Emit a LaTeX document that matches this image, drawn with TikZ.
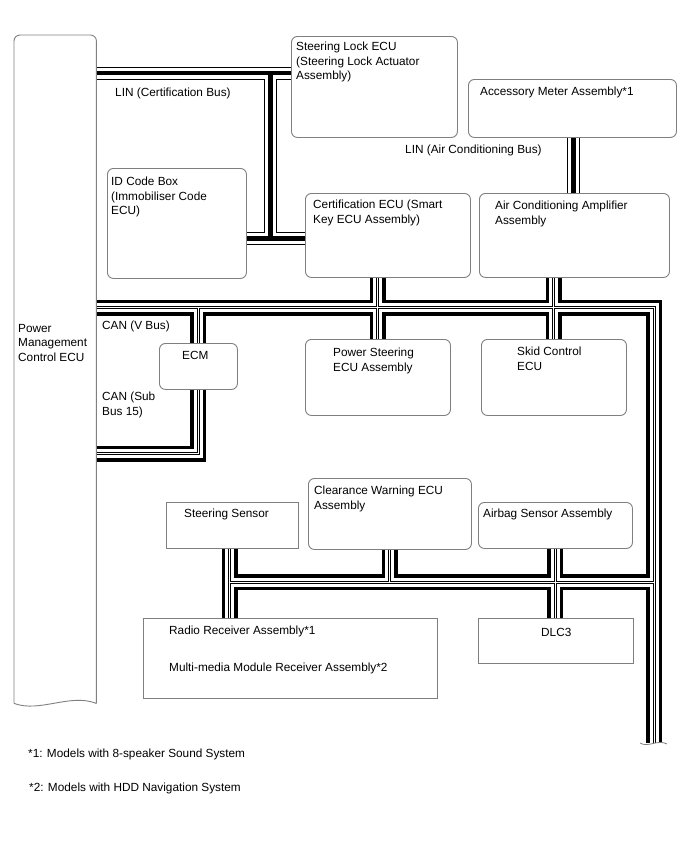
\documentclass[tikz,border=0pt]{standalone}
\usepackage{fontspec}
\setmainfont{Liberation Sans}
\usepackage{xcolor}
\definecolor{boxGray}{HTML}{7F7F7F}
\usetikzlibrary{positioning,backgrounds}
\tikzset{%
  ecuBox/.style={%
    rectangle,
    rounded corners=6pt,
    draw=boxGray,
    fill=white,
    line width=0.9pt,
    anchor=north west,
    inner sep=0pt
  },
  partBox/.style={%
    ecuBox,
    sharp corners
  },
  boxText/.style={%
    anchor=north west,
    inner sep=0pt,
    align=left,
    font=\fontsize{11.8}{14.5}\selectfont
  },
  busPass/.style={%
    line width=#1,
    line join=miter,
    line cap=butt
  }
}

\begin{document}
\begin{tikzpicture}[x=1pt,y=-1pt]
    \useasboundingbox (0,0) rectangle (688,852);

    % Power management ECU (left, cut off at the bottom)
    \node[minimum width=82, minimum height=668, anchor=north west, inner sep=0pt] (pmc) at (14,35) {};
    \draw[draw=boxGray, line width=0.9pt, rounded corners=6pt]
        (pmc.south west) -- (pmc.north west) -- (pmc.north east) -- (pmc.south east);
    \draw[draw=boxGray, line width=0.9pt]
        (pmc.south west) .. controls (40,713) and (70,693) .. (pmc.south east);
    \node[boxText] (pmcText) at (18,324) {Power\\Management\\Control ECU};

    % Upper ECUs
    \node[ecuBox, minimum width=166, minimum height=101] (slock) at (291,36) {};
    \node[boxText] (slockText) at (296,42) {Steering Lock ECU\\(Steering Lock Actuator\\Assembly)};

    \node[ecuBox, minimum width=208, minimum height=58] (accmeter) at (468,79) {};
    \node[boxText] (accmeterText) at (480,87) {Accessory Meter Assembly*1};

    \node[ecuBox, minimum width=139, minimum height=110] (idbox) at (107,168) {};
    \node[boxText] (idboxText) at (111,177) {ID Code Box\\(Immobiliser Code\\ECU)};

    \node[ecuBox, minimum width=165, minimum height=84] (cert) at (305,193) {};
    \node[boxText] (certText) at (313,200) {Certification ECU (Smart\\Key ECU Assembly)};

    \node[ecuBox, minimum width=190, minimum height=84] (acamp) at (479,193) {};
    \node[boxText] (acampText) at (495,201) {Air Conditioning Amplifier\\Assembly};

    % Middle ECUs
    \node[ecuBox, minimum width=78, minimum height=46] (ecm) at (159,343) {};
    \node[boxText] (ecmText) at (182,351) {ECM};

    \node[ecuBox, minimum width=145, minimum height=76] (ps) at (305,339) {};
    \node[boxText] (psText) at (333,348) {Power Steering\\ECU Assembly};

    \node[ecuBox, minimum width=145, minimum height=76] (skid) at (481,339) {};
    \node[boxText] (skidText) at (517,347) {Skid Control\\ECU};

    % Lower ECUs
    \node[partBox, minimum width=132, minimum height=46] (ssensor) at (166,502) {};
    \node[boxText] (ssensorText) at (184,509) {Steering Sensor};

    \node[ecuBox, minimum width=163, minimum height=71] (clear) at (308,478) {};
    \node[boxText] (clearText) at (314,486) {Clearance Warning ECU\\Assembly};

    \node[ecuBox, minimum width=154, minimum height=46] (airbag) at (478,502) {};
    \node[boxText] (airbagText) at (483,509) {Airbag Sensor Assembly};

    \node[partBox, minimum width=294, minimum height=80] (radio) at (143,618) {};
    \node[boxText] (radioText) at (169,626) {Radio Receiver Assembly*1};
    \node[boxText] (mmText) at (169,663) {Multi-media Module Receiver Assembly*2};

    \node[partBox, minimum width=155, minimum height=45] (dlc) at (478,618) {};
    \node[boxText] (dlcText) at (541,628) {DLC3};

    % Bus labels
    \node[boxText] (linCertText) at (115,88) {LIN (Certification Bus)};
    \node[boxText] (linAcText) at (405,145) {LIN (Air Conditioning Bus)};
    \node[boxText] (canVText) at (102,321) {CAN (V Bus)};
    \node[boxText] (canSubText) at (102,392) {CAN (Sub\\Bus 15)};

    % Footnotes
    \node[boxText] (note1) at (28,749) {*1: Models with 8-speaker Sound System};
    \node[boxText] (note2) at (29,783) {*2: Models with HDD Navigation System};

    % Bus corner points
    \coordinate (canV) at (654,307.5);
    \coordinate (canEnd) at (654,743);
    \coordinate (canSub) at (198,453.5);
    \coordinate (canLow) at (229.5,582);
    \coordinate (linTop) at (270.5,73);
    \coordinate (linLow) at (270.5,238.5);
    \coordinate (linAc) at (573.5,0);

    \begin{scope}[on background layer]
        % LIN buses
        \foreach \w/\c in {13pt/black, 11pt/white, 4.5pt/black} {
            \draw[busPass=\w, draw=\c]
                (pmc.east |- linTop) -- (slock.west |- linTop)
                (linTop) -- (linLow)
                (idbox.east |- linLow) -- (cert.west |- linLow)
                (accmeter.south -| linAc) -- (acamp.north -| linAc);
        }
        % CAN buses
        \foreach \w/\c in {16pt/black, 9pt/white, 3pt/black, 1pt/white} {
            \draw[busPass=\w, draw=\c]
                (pmc.east |- canV) -- (canV) -- (canEnd)
                (ps.north) -- (ps.north |- cert.south)
                (skid.north) -- (skid.north |- acamp.south)
                (ecm.north) -- (ecm.north |- canV)
                (ecm.south) -- (ecm.south |- canSub) -- (pmc.east |- canSub)
                (ssensor.south -| canLow) -- (radio.north -| canLow)
                (canLow) -- (canEnd |- canLow)
                (clear.south) -- (clear.south |- canLow)
                (airbag.south) -- (airbag.south |- dlc.north);
        }
    \end{scope}
    % cut end of the right bus
    \draw[draw=boxGray, line width=0.8pt]
        ([xshift=-14pt]canEnd) .. controls ([xshift=-6pt, yshift=-5pt]canEnd) and ([xshift=4pt, yshift=4pt]canEnd) .. ([xshift=13pt, yshift=-1pt]canEnd);
\end{tikzpicture}
\end{document}
